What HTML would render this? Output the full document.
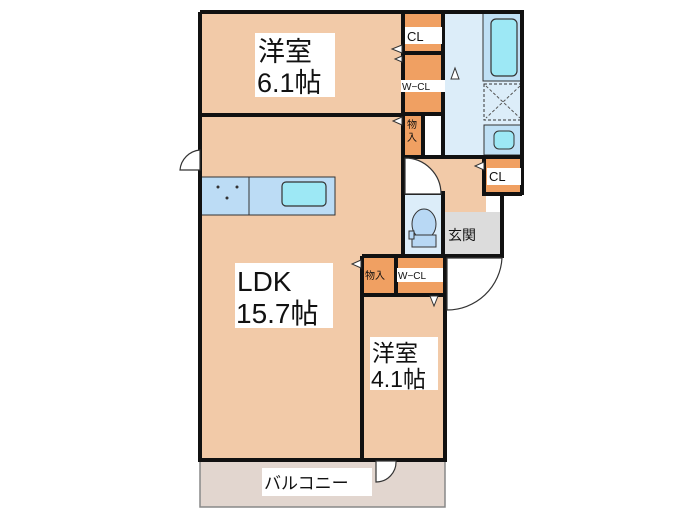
<!DOCTYPE html>
<html><head><meta charset="utf-8"><style>
html,body{margin:0;padding:0;background:#fff;width:700px;height:525px;overflow:hidden}
svg{display:block}
text{font-family:"Liberation Sans","Noto Sans CJK JP",sans-serif;fill:#111}
</style></head><body>
<svg width="700" height="525" viewBox="0 0 700 525" xmlns="http://www.w3.org/2000/svg">
<!-- balcony -->
<rect x="200" y="459" width="245" height="48" fill="#e2d6cf" stroke="#888" stroke-width="1.5"/>
<!-- rooms peach -->
<rect x="200" y="12" width="203" height="103" fill="#f2caa8"/>
<rect x="200" y="115" width="203" height="343" fill="#f2caa8"/>
<rect x="363" y="296" width="81" height="162" fill="#f2caa8"/>
<rect x="404" y="157" width="82" height="55" fill="#f2caa8"/>
<!-- closets orange -->
<rect x="404" y="13" width="39" height="40" fill="#f0a062"/>
<rect x="404" y="54" width="39" height="59" fill="#f0a062"/>
<rect x="404" y="115" width="19" height="40" fill="#f0a062"/>
<rect x="425" y="115" width="18" height="40" fill="#fff"/>
<rect x="486" y="159" width="36" height="35" fill="#f0a062"/>
<rect x="486" y="196" width="16" height="40" fill="#fff"/>
<rect x="363" y="256" width="32" height="38" fill="#f0a062"/>
<rect x="397" y="256" width="46" height="38" fill="#f0a062"/>
<!-- bath area -->
<rect x="444" y="13" width="78" height="144" fill="#dcedf9"/>
<rect x="483" y="13" width="39" height="68" fill="#bfe0f5" stroke="#333" stroke-width="1"/>
<rect x="491" y="19" width="26" height="57" rx="5" fill="#9de8f5" stroke="#333" stroke-width="1.2"/>
<rect x="484" y="84" width="38" height="36" fill="#dcedf9" stroke="#333" stroke-width="1" stroke-dasharray="3,2"/>
<line x1="486" y1="86" x2="520" y2="118" stroke="#555" stroke-dasharray="3,2"/>
<line x1="520" y1="86" x2="486" y2="118" stroke="#555" stroke-dasharray="3,2"/>
<rect x="484" y="125" width="38" height="30" fill="#bfe0f5" stroke="#333" stroke-width="1"/>
<rect x="494" y="131" width="20" height="18" rx="5" fill="#9de8f5" stroke="#333"/>
<!-- toilet -->
<rect x="404" y="194" width="39" height="60" fill="#dcedf9"/>
<ellipse cx="424" cy="224" rx="12" ry="15" fill="#b8d8f4" stroke="#333"/>
<rect x="412" y="235" width="24" height="12" fill="#b8d8f4" stroke="#333"/>
<rect x="409" y="231" width="5" height="8" fill="#b8d8f4" stroke="#333"/>
<!-- genkan -->
<rect x="444" y="212" width="59" height="43" fill="#dcdcdc"/>
<!-- kitchen -->
<rect x="201" y="177" width="134" height="38" fill="#bcdcf5" stroke="#333" stroke-width="1"/>
<line x1="249" y1="177" x2="249" y2="215" stroke="#333"/>
<rect x="282" y="182" width="44" height="24" rx="4" fill="#9de8f5" stroke="#333" stroke-width="1.2"/>
<circle cx="218" cy="187" r="1.5" fill="#333"/><circle cx="237" cy="187" r="1.5" fill="#333"/><circle cx="227" cy="198" r="1.5" fill="#333"/>
<!-- walls -->
<g stroke="#111" fill="none" stroke-width="4">
<path d="M200 12 H522 V157"/>
<path d="M200 12 V460 H445 V256"/>
<path d="M200 115 H403"/>
<path d="M403 12 V256"/>
<path d="M443 12 V157 H522 V195"/>
<path d="M404 53 H443 M404 114 H443 M423 114 V157 M404 157 H485 M484 159 V194 H522"/>
<path d="M485 194 H502 V256 H445"/>
<path d="M404 193 H443 V256"/>
<path d="M362 256 H443 M362 256 V459 M396 256 V295 M362 295 H443"/>
</g>
<!-- doors -->
<g stroke="#333" fill="#fff" stroke-width="1.2">
<path d="M200 150 A22 22 0 0 0 180 170 H200 Z"/>
<path d="M405 158 A36 36 0 0 1 441 194 H405 Z" />
<path d="M447 258 V310 A55 55 0 0 0 502 258 Z"/>
<path d="M376 461 V482 A20 20 0 0 0 396 461 Z"/>
</g>
<g fill="#fff" stroke="#333" stroke-width="1">
<path d="M402 45 L392 49 L402 53 Z"/><path d="M402 56 L395 59 L402 62 Z"/>
<path d="M402 117 L393 121 L402 125 Z"/><path d="M484 162 L475 166 L484 170 Z"/>
<path d="M361 260 L352 264 L361 268 Z"/><path d="M430 296 L434 306 L438 296 Z"/>
<path d="M451 79 L455 68 L459 79 Z"/>
</g>
<!-- labels -->
<rect x="255" y="33" width="80" height="64" fill="#fff"/>
<text x="258" y="61" font-size="27">洋室</text>
<text x="257" y="92" font-size="27">6.1帖</text>
<rect x="235" y="263" width="98" height="65" fill="#fff"/>
<text x="237" y="291" font-size="28">LDK</text>
<text x="236" y="323" font-size="28">15.7帖</text>
<rect x="370" y="337" width="68" height="53" fill="#fff"/>
<text x="372" y="361" font-size="23">洋室</text>
<text x="371" y="387" font-size="23">4.1帖</text>
<rect x="262" y="468" width="110" height="28" fill="#fff"/>
<text x="264" y="489" font-size="17">バルコニー</text>
<rect x="405" y="27" width="37" height="17" fill="#fff"/>
<text x="407" y="41" font-size="13">CL</text>
<rect x="401" y="80" width="44" height="12" fill="#fff"/>
<text x="402" y="90" font-size="10">W−CL</text>
<rect x="487" y="168" width="34" height="17" fill="#fff"/>
<text x="489" y="181" font-size="13">CL</text>
<rect x="397" y="268" width="46" height="14" fill="#fff"/>
<text x="398" y="279" font-size="10">W−CL</text>
<text x="365" y="279" font-size="10">物入</text>
<text x="407" y="128" font-size="10">物</text>
<text x="407" y="141" font-size="10">入</text>
<text x="448" y="240" font-size="14">玄関</text>
</svg>
</body></html>
